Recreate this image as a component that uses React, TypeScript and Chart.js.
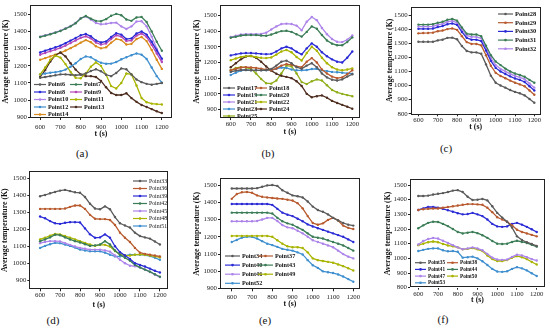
import React, { useEffect, useRef } from "react";
import { Chart, registerables } from "chart.js";
Chart.register(...registerables);

// ---------- data ----------
const T = [600,625,650,675,700,725,750,775,800,825,850,875,900,925,950,975,1000,1025,1050,1075,1100,1125,1150,1175,1200];
const X_TICKS = [600,700,800,900,1000,1100,1200];
const Y_TICKS_900 = [900,1000,1100,1200,1300,1400,1500];
const Y_TICKS_800 = [800,900,1000,1100,1200,1300,1400,1500];

// panel (a)
const A_P6  = [1130,1135,1140,1145,1150,1150,1148,1145,1148,1155,1170,1180,1168,1148,1140,1158,1185,1180,1150,1120,1105,1095,1090,1095,1100];
const A_P7  = [1368,1376,1384,1393,1403,1416,1430,1448,1476,1490,1475,1462,1460,1472,1492,1503,1495,1470,1462,1482,1485,1455,1400,1340,1288];
const A_P8  = [1278,1288,1298,1308,1318,1332,1347,1362,1378,1386,1372,1348,1336,1342,1368,1390,1382,1356,1360,1388,1400,1382,1340,1290,1242];
const A_P9  = [1265,1275,1285,1295,1305,1318,1333,1348,1363,1372,1360,1336,1324,1330,1356,1378,1370,1344,1348,1376,1388,1368,1322,1272,1222];
const A_P10 = [1370,1378,1386,1395,1405,1418,1432,1450,1478,1488,1470,1450,1442,1445,1450,1452,1430,1415,1430,1458,1460,1430,1370,1300,1235];
const A_P11 = [1150,1190,1235,1260,1248,1210,1165,1130,1128,1155,1195,1220,1200,1148,1082,1068,1100,1155,1150,1085,1012,988,980,977,975];
const A_P12 = [1150,1155,1160,1163,1168,1178,1195,1215,1240,1255,1250,1232,1218,1212,1213,1222,1238,1250,1262,1272,1265,1240,1190,1140,1102];
const A_P13 = [1135,1175,1225,1262,1278,1255,1215,1178,1150,1140,1140,1135,1112,1075,1042,1030,1030,1040,1012,990,972,960,948,935,925];
const A_P14 = [1235,1245,1255,1265,1276,1289,1303,1318,1335,1350,1338,1314,1302,1308,1335,1357,1350,1324,1328,1356,1368,1344,1292,1235,1182];

// panel (b)
const B_P17 = [1140,1148,1152,1152,1150,1150,1150,1152,1158,1180,1205,1212,1195,1170,1160,1180,1195,1170,1130,1105,1090,1085,1092,1110,1125];
const B_P18 = [1150,1160,1168,1170,1168,1165,1160,1155,1150,1162,1180,1190,1185,1175,1170,1205,1228,1200,1155,1130,1110,1100,1105,1125,1150];
const B_P19 = [1245,1252,1258,1260,1260,1258,1255,1253,1255,1270,1290,1300,1290,1268,1252,1290,1322,1300,1265,1240,1220,1205,1200,1230,1270];
const B_P20 = [1358,1364,1372,1375,1375,1375,1372,1370,1378,1390,1400,1402,1395,1380,1365,1395,1430,1415,1375,1340,1320,1310,1310,1330,1360];
const B_P21 = [1362,1370,1378,1380,1380,1380,1382,1390,1410,1430,1445,1448,1445,1435,1405,1460,1490,1470,1420,1380,1350,1332,1330,1345,1372];
const B_P22 = [1215,1225,1235,1240,1240,1235,1230,1228,1232,1250,1270,1280,1265,1235,1212,1260,1300,1275,1230,1195,1170,1155,1150,1155,1162];
const B_P23 = [1120,1135,1148,1152,1150,1150,1150,1150,1152,1160,1168,1165,1155,1150,1150,1152,1158,1160,1150,1145,1140,1138,1135,1130,1128];
const B_P24 = [1170,1195,1220,1238,1242,1230,1205,1175,1148,1128,1115,1108,1100,1080,1050,1000,978,985,990,975,955,942,930,918,905];
const B_P25 = [1150,1165,1170,1168,1160,1130,1095,1068,1065,1085,1130,1180,1175,1130,1075,1062,1080,1092,1085,1055,1025,1010,1000,992,985];

// panel (c)
const C_P28 = [1310,1310,1310,1310,1320,1325,1338,1340,1328,1280,1245,1235,1235,1225,1150,1070,1020,1000,985,968,955,945,930,905,878];
const C_P29 = [1370,1372,1373,1375,1385,1390,1400,1405,1395,1350,1308,1295,1295,1285,1215,1140,1090,1068,1052,1035,1020,1008,995,965,935];
const C_P30 = [1402,1402,1402,1404,1415,1422,1435,1440,1430,1380,1338,1325,1325,1315,1248,1175,1125,1100,1082,1065,1050,1040,1025,995,965];
const C_P31 = [1432,1432,1432,1435,1445,1452,1466,1472,1460,1412,1368,1362,1362,1350,1282,1215,1170,1145,1120,1100,1085,1075,1062,1040,1020];
const C_P32 = [1418,1418,1418,1420,1430,1438,1452,1458,1446,1398,1355,1345,1345,1335,1265,1195,1145,1118,1100,1083,1068,1058,1045,1015,985];

// panel (d)
const D_P33 = [1395,1402,1412,1420,1428,1432,1425,1418,1415,1390,1350,1322,1318,1335,1318,1272,1235,1222,1210,1180,1160,1152,1145,1128,1110];
const D_P36 = [1320,1320,1320,1320,1320,1322,1332,1340,1340,1320,1285,1262,1260,1260,1255,1225,1180,1150,1125,1090,1062,1055,1050,1045,1040];
const D_P39 = [1275,1265,1248,1235,1232,1238,1242,1242,1240,1205,1170,1150,1152,1170,1150,1100,1065,1045,1025,1000,990,980,968,955,945];
const D_P42 = [1130,1140,1152,1168,1165,1152,1140,1130,1122,1112,1102,1105,1110,1130,1110,1075,1050,1032,1015,990,975,962,950,935,920];
const D_P45 = [1118,1125,1130,1130,1128,1118,1108,1098,1090,1085,1080,1080,1080,1075,1068,1045,1020,1000,985,982,975,962,948,932,918];
const D_P48 = [1140,1150,1162,1172,1170,1160,1150,1140,1130,1120,1110,1102,1108,1108,1098,1072,1052,1045,1045,1050,1052,1050,1045,1040,1035];
const D_P51 = [1090,1102,1112,1120,1118,1110,1102,1092,1080,1075,1070,1070,1070,1062,1050,1040,1040,1045,1050,1050,1050,1048,1042,1032,1020];

// panel (e)
const E_P34 = [1480,1480,1480,1480,1480,1482,1490,1498,1500,1495,1470,1455,1440,1435,1428,1405,1375,1355,1345,1330,1310,1295,1280,1270,1265];
const E_P37 = [1420,1448,1458,1460,1455,1440,1432,1428,1425,1422,1420,1415,1410,1395,1365,1320,1280,1270,1278,1298,1310,1295,1265,1252,1245];
const E_P40 = [1390,1390,1390,1390,1390,1390,1390,1390,1385,1362,1340,1328,1320,1305,1290,1272,1260,1250,1240,1230,1220,1210,1200,1185,1170];
const E_P43 = [1340,1340,1340,1340,1340,1340,1340,1340,1335,1310,1290,1278,1270,1255,1240,1220,1200,1195,1190,1180,1170,1160,1150,1135,1120];
const E_P46 = [1290,1290,1290,1290,1290,1292,1300,1310,1310,1292,1268,1255,1250,1235,1220,1200,1180,1170,1160,1150,1140,1120,1100,1085,1075];
const E_P49 = [1205,1205,1205,1205,1205,1205,1205,1205,1200,1180,1160,1145,1140,1140,1135,1110,1075,1065,1060,1055,1050,1040,1030,1018,1005];
const E_P52 = [1170,1182,1195,1200,1200,1190,1175,1160,1152,1142,1130,1125,1120,1110,1098,1065,1035,1020,1000,995,990,982,970,955,940];

// panel (f)
const F_P35 = [1425,1425,1428,1435,1440,1445,1452,1462,1465,1452,1420,1398,1400,1405,1395,1355,1310,1278,1250,1210,1150,1125,1110,1098,1085];
const F_P38 = [1330,1335,1338,1340,1340,1345,1350,1355,1360,1365,1370,1370,1368,1365,1345,1315,1280,1265,1250,1225,1195,1180,1170,1160,1150];
const F_P41 = [1330,1340,1350,1350,1345,1338,1328,1318,1308,1300,1302,1310,1300,1288,1265,1235,1218,1215,1218,1235,1242,1230,1215,1198,1180];
const F_P44 = [1205,1225,1242,1250,1248,1235,1220,1200,1180,1170,1175,1180,1172,1158,1140,1118,1100,1098,1100,1112,1120,1112,1105,1092,1080];
const F_P47 = [1095,1118,1132,1140,1135,1120,1105,1090,1075,1062,1068,1075,1068,1055,1030,1005,992,990,992,1010,1025,1020,1008,995,985];
const F_P50 = [1090,1100,1110,1115,1110,1098,1088,1082,1075,1062,1065,1070,1062,1050,1020,995,982,982,988,1005,1015,1008,995,975,958];
const F_P53 = [1050,1058,1065,1068,1068,1055,1048,1050,1045,1005,1008,1012,1000,980,955,928,910,908,912,928,940,932,918,898,880];

// ---------- styles ----------
const GRAY = "#5a5a5a";
const RED = "#b85a2e";
const BLUE = "#2b2bd6";
const GREEN = "#3b7d56";
const VIOLET = "#ad84ea";
const OLIVE = "#a9b400";
const STEEL = "#3f8fcf";
const DBROWN = "#4d2d1f";
const ORANGE = "#d98a1c";
const MAGENTA = "#b446b8";
const SERIF = '"Liberation Serif", "Times New Roman", serif';

type S = { label: string; data: number[]; color: string };
type Panel = {
  canvas: { x: number; y: number; w: number; h: number };
  area: { L: number; R: number; T: number; B: number };
  xr: [number, number];
  yr: [number, number];
  yTicks: number[];
  yTitleX: number;
  xTitleY: number;
  xTickPad: number;
  series: S[];
  legend: { x: number; y: number; rowH: number; colW: number; cols: number; len: number; font: number; bold: boolean };
  label: { text: string; x: number; y: number };
};

const PANELS: Panel[] = [
  {
    canvas: { x: 0, y: 0, w: 183, h: 140 },
    area: { L: 30, R: 172, T: 4, B: 118 },
    xr: [550, 1250], yr: [896, 1554], yTicks: Y_TICKS_900,
    yTitleX: 5.7, xTitleY: 134, xTickPad: 3,
    series: [
      { label: "Point6", data: A_P6, color: GRAY },
      { label: "Point7", data: A_P7, color: GREEN },
      { label: "Point8", data: A_P8, color: BLUE },
      { label: "Point9", data: A_P9, color: MAGENTA },
      { label: "Point10", data: A_P10, color: VIOLET },
      { label: "Point11", data: A_P11, color: OLIVE },
      { label: "Point12", data: A_P12, color: STEEL },
      { label: "Point13", data: A_P13, color: DBROWN },
      { label: "Point14", data: A_P14, color: ORANGE },
    ],
    legend: { x: 34, y: 84.5, rowH: 7.5, colW: 36, cols: 2, len: 12, font: 6.2, bold: true },
    label: { text: "(a)", x: 82, y: 153 },
  },
  {
    canvas: { x: 184, y: 0, w: 183, h: 140 },
    area: { L: 220, R: 360, T: 3, B: 118 },
    xr: [547, 1238], yr: [846, 1566], yTicks: Y_TICKS_900,
    yTitleX: 197.3, xTitleY: 131.7, xTickPad: 0,
    series: [
      { label: "Point17", data: B_P17, color: GRAY },
      { label: "Point18", data: B_P18, color: RED },
      { label: "Point19", data: B_P19, color: BLUE },
      { label: "Point20", data: B_P20, color: GREEN },
      { label: "Point21", data: B_P21, color: VIOLET },
      { label: "Point22", data: B_P22, color: OLIVE },
      { label: "Point23", data: B_P23, color: STEEL },
      { label: "Point24", data: B_P24, color: DBROWN },
      { label: "Point25", data: B_P25, color: "#8fae1a" },
    ],
    legend: { x: 223, y: 88, rowH: 7, colW: 32, cols: 2, len: 12, font: 6.2, bold: true },
    label: { text: "(b)", x: 268, y: 153 },
  },
  {
    canvas: { x: 368, y: 0, w: 182, h: 140 },
    area: { L: 410.7, R: 540.7, T: 6.7, B: 114.3 },
    xr: [560, 1233], yr: [796, 1559], yTicks: Y_TICKS_800,
    yTitleX: 390, xTitleY: 126.7, xTickPad: 0,
    series: [
      { label: "Point28", data: C_P28, color: GRAY },
      { label: "Point29", data: C_P29, color: RED },
      { label: "Point30", data: C_P30, color: BLUE },
      { label: "Point31", data: C_P31, color: GREEN },
      { label: "Point32", data: C_P32, color: VIOLET },
    ],
    legend: { x: 498, y: 14, rowH: 8.7, colW: 0, cols: 1, len: 15, font: 6.5, bold: true },
    label: { text: "(c)", x: 446, y: 148 },
  },
  {
    canvas: { x: 0, y: 166, w: 183, h: 145 },
    area: { L: 29.3, R: 168.3, T: 169.3, B: 289.3 },
    xr: [546, 1242], yr: [846, 1543], yTicks: Y_TICKS_900,
    yTitleX: 5, xTitleY: 305.3, xTickPad: 0,
    series: [
      { label: "Point33", data: D_P33, color: GRAY },
      { label: "Point36", data: D_P36, color: RED },
      { label: "Point39", data: D_P39, color: BLUE },
      { label: "Point42", data: D_P42, color: GREEN },
      { label: "Point45", data: D_P45, color: VIOLET },
      { label: "Point48", data: D_P48, color: OLIVE },
      { label: "Point51", data: D_P51, color: STEEL },
    ],
    legend: { x: 133, y: 181, rowH: 7.5, colW: 0, cols: 1, len: 14, font: 5.8, bold: false },
    label: { text: "(d)", x: 53, y: 320 },
  },
  {
    canvas: { x: 184, y: 166, w: 183, h: 145 },
    area: { L: 220, R: 360, T: 178.3, B: 289.3 },
    xr: [542, 1233], yr: [896, 1539], yTicks: Y_TICKS_900,
    yTitleX: 196.7, xTitleY: 304.3, xTickPad: 1.5,
    series: [
      { label: "Point34", data: E_P34, color: GRAY },
      { label: "Point37", data: E_P37, color: RED },
      { label: "Point40", data: E_P40, color: BLUE },
      { label: "Point43", data: E_P43, color: GREEN },
      { label: "Point46", data: E_P46, color: VIOLET },
      { label: "Point49", data: E_P49, color: OLIVE },
      { label: "Point52", data: E_P52, color: STEEL },
    ],
    legend: { x: 225, y: 256, rowH: 9.1, colW: 33, cols: 2, len: 15, font: 6.2, bold: true },
    label: { text: "(e)", x: 265, y: 320 },
  },
  {
    canvas: { x: 368, y: 166, w: 182, h: 145 },
    area: { L: 410, R: 545, T: 179.3, B: 287.7 },
    xr: [558, 1242], yr: [800, 1539], yTicks: Y_TICKS_800,
    yTitleX: 388.3, xTitleY: 300.3, xTickPad: 0.5,
    series: [
      { label: "Point35", data: F_P35, color: GRAY },
      { label: "Point38", data: F_P38, color: RED },
      { label: "Point41", data: F_P41, color: BLUE },
      { label: "Point44", data: F_P44, color: GREEN },
      { label: "Point47", data: F_P47, color: VIOLET },
      { label: "Point50", data: F_P50, color: OLIVE },
      { label: "Point53", data: F_P53, color: STEEL },
    ],
    legend: { x: 415, y: 262.7, rowH: 6.7, colW: 32, cols: 2, len: 11, font: 5.2, bold: true },
    label: { text: "(f)", x: 443, y: 319 },
  },
];

const TICK_FONT = 6.8;
const TITLE_FONT = 7.8;

const framePlugin = {
  id: "frame",
  afterDraw(chart: any) {
    const { ctx, chartArea: a } = chart;
    ctx.save();
    ctx.strokeStyle = "#222";
    ctx.lineWidth = 1;
    ctx.strokeRect(Math.round(a.left) + 0.5, Math.round(a.top) + 0.5, Math.round(a.right - a.left) - 1, Math.round(a.bottom - a.top) - 1);
    ctx.restore();
  },
};

function makeLegendPlugin(p: Panel) {
  return {
    id: "innerLegend",
    afterDatasetsDraw(chart: any) {
      const ctx = chart.ctx;
      const lg = p.legend;
      ctx.save();
      ctx.font = `${lg.bold ? "bold " : ""}${lg.font}px ${SERIF}`;
      ctx.textBaseline = "middle";
      ctx.textAlign = "left";
      p.series.forEach((s, i) => {
        const col = i % lg.cols;
        const row = Math.floor(i / lg.cols);
        const x = lg.x + col * lg.colW - p.canvas.x;
        const y = lg.y + row * lg.rowH - p.canvas.y;
        ctx.strokeStyle = s.color;
        ctx.fillStyle = s.color;
        ctx.lineWidth = 1.2;
        ctx.beginPath();
        ctx.moveTo(x, y);
        ctx.lineTo(x + lg.len, y);
        ctx.stroke();
        ctx.beginPath();
        ctx.arc(x + lg.len / 2, y, 1.3, 0, Math.PI * 2);
        ctx.fill();
        ctx.fillStyle = "#111";
        ctx.fillText(s.label, x + lg.len + 2, y + 0.3);
      });
      ctx.restore();
    },
  };
}

function PanelChart({ p }: { p: Panel }) {
  const ref = useRef<HTMLCanvasElement | null>(null);
  useEffect(() => {
    if (!ref.current) return;
    const { x: cx, y: cy, w: cw, h: ch } = p.canvas;
    const lh = TITLE_FONT * 1.2;
    const chart = new Chart(ref.current, {
      type: "line",
      data: {
        datasets: p.series.map((s) => ({
          label: s.label,
          data: T.map((t, i) => ({ x: t, y: s.data[i] })),
          borderColor: s.color,
          backgroundColor: s.color,
          borderWidth: 1.3,
          pointRadius: 1.2,
          pointBorderWidth: 0,
          pointBackgroundColor: s.color,
          tension: 0,
        })),
      },
      options: {
        animation: false,
        responsive: false,
        events: [],
        layout: {
          autoPadding: false,
          padding: { left: 0, top: p.area.T - cy, right: cx + cw - p.area.R, bottom: 0 },
        },
        plugins: { legend: { display: false }, tooltip: { enabled: false } },
        scales: {
          x: {
            type: "linear",
            min: p.xr[0],
            max: p.xr[1],
            afterBuildTicks: (sc: any) => { sc.ticks = X_TICKS.map((v) => ({ value: v })); },
            afterFit: (sc: any) => { sc.height = ch - (p.area.B - cy); },
            grid: { drawOnChartArea: false, drawTicks: true, tickLength: 2, color: "#222", lineWidth: 1 },
            border: { display: false },
            ticks: {
              font: { family: SERIF, size: TICK_FONT }, color: "#222", padding: p.xTickPad, maxRotation: 0, autoSkip: false,
              callback: (v: any) => String(v),
            },
            title: {
              display: true, text: "t (s)", color: "#111",
              font: { family: SERIF, size: TITLE_FONT, weight: "bold" },
              padding: { top: 0, bottom: Math.max(0, cy + ch - p.xTitleY - lh / 2) },
            },
          },
          y: {
            type: "linear",
            min: p.yr[0],
            max: p.yr[1],
            afterBuildTicks: (sc: any) => { sc.ticks = p.yTicks.map((v) => ({ value: v })); },
            afterFit: (sc: any) => { sc.width = p.area.L - cx; },
            grid: { drawOnChartArea: false, drawTicks: true, tickLength: 2, color: "#222", lineWidth: 1 },
            border: { display: false },
            ticks: {
              font: { family: SERIF, size: TICK_FONT }, color: "#222", padding: 1, autoSkip: false,
              callback: (v: any) => String(v),
            },
            title: {
              display: true, text: "Average temperature (K)", color: "#111",
              font: { family: SERIF, size: TITLE_FONT, weight: "bold" },
              padding: { top: Math.max(0, p.yTitleX - cx - lh / 2), bottom: 0 },
            },
          },
        },
      } as any,
      plugins: [framePlugin, makeLegendPlugin(p)],
    });
    return () => chart.destroy();
  }, [p]);
  return (
    <canvas
      ref={ref}
      width={p.canvas.w}
      height={p.canvas.h}
      style={{ position: "absolute", left: p.canvas.x, top: p.canvas.y, width: p.canvas.w, height: p.canvas.h }}
    />
  );
}

export default function App() {
  return (
    <div style={{ position: "absolute", left: 0, top: 0, width: 550, height: 332, background: "#fff", overflow: "hidden" }}>
      {PANELS.map((p, i) => (
        <React.Fragment key={i}>
          <PanelChart p={p} />
          <div
            style={{
              position: "absolute", left: p.label.x, top: p.label.y, transform: "translate(-50%, -50%)",
              fontFamily: SERIF, fontSize: 11, color: "#111", lineHeight: 1, whiteSpace: "nowrap",
            }}
          >
            {p.label.text}
          </div>
        </React.Fragment>
      ))}
    </div>
  );
}
